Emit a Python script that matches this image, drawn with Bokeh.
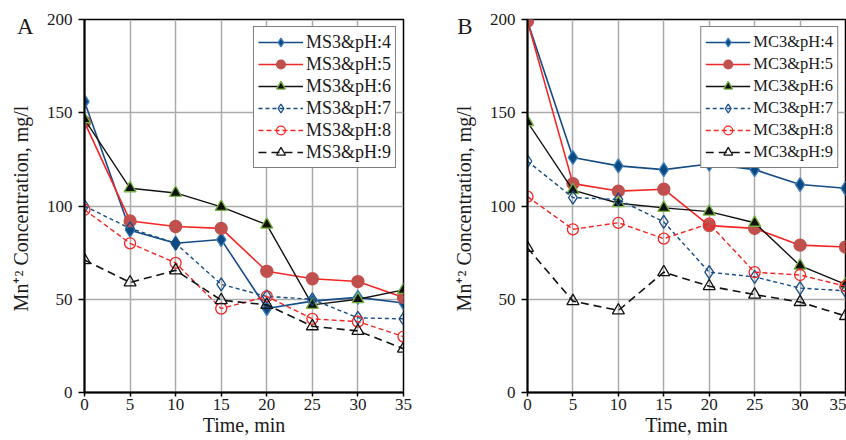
from bokeh.plotting import figure
from bokeh.layouts import row
from bokeh.models import FixedTicker, LinearAxis
from bokeh.embed import file_html
from bokeh.resources import INLINE

time_min = [0, 5, 10, 15, 20, 25, 30, 35]
x_ticks = [0, 5, 10, 15, 20, 25, 30, 35]
y_ticks = [0, 50, 100, 150, 200]

ms3_labels = ["MS3&pH:4", "MS3&pH:5", "MS3&pH:6", "MS3&pH:7", "MS3&pH:8", "MS3&pH:9"]
ms3_ph4 = [156, 87, 80, 82, 45, 49, 51, 48]
ms3_ph5 = [145, 92, 89, 88, 65, 61, 59.5, 51]
ms3_ph6 = [146.5, 109.5, 107, 99.5, 90, 47, 50, 55]
ms3_ph7 = [100, 88, 80, 58, 51.5, 50, 40, 39.5]
ms3_ph8 = [98, 80, 69.5, 45, 51.5, 39.5, 38, 30]
ms3_ph9 = [71, 59, 65.5, 49.5, 47, 35.5, 33, 23.5]

mc3_labels = ["MC3&pH:4", "MC3&pH:5", "MC3&pH:6", "MC3&pH:7", "MC3&pH:8", "MC3&pH:9"]
mc3_ph4 = [199, 126, 121.5, 119.5, 122.5, 119.5, 111.5, 109.5]
mc3_ph5 = [199, 112, 108, 109, 89.5, 88, 79, 78]
mc3_ph6 = [145, 108.5, 101.5, 99, 97, 91, 68, 58]
mc3_ph7 = [124, 104.5, 103.5, 91.5, 64.5, 62, 56, 54.5]
mc3_ph8 = [105, 87.5, 91, 82.5, 90.5, 64.5, 63, 57]
mc3_ph9 = [77.5, 49, 44, 64.5, 57, 52.5, 48.5, 41]

panel_letters = ["A", "B"]
letter_pos = 196

NAVY = "#154C85"
RED = "#F52525"
FONT = "Liberation Serif"
TXT = "#1a1a1a"

# line_color, dash, marker, size, fill, edge, line_width
styles = [
    (NAVY, "solid", "diamond", 14, "#0B4A80", "#3F7FC0", 1.6),
    (RED, "solid", "circle", 12, "#C0504D", "#C0504D", 1.6),
    ("#111111", "solid", "triangle", 12, "#111111", "#79B443", 1.4),
    (NAVY, "4 3", "diamond", 13, None, NAVY, 1.4),
    (RED, "5 3", "circle", 11, None, RED, 1.4),
    ("#111111", "8 5", "triangle", 12, None, "#111111", 1.6),
]


def make_panel(labels, series, letter, letter_shift, width, border_left, border_right, legend_size):
    p = figure(width=width, height=440, x_range=(0, 35), y_range=(0, 200),
               output_backend="svg", toolbar_location=None,
               min_border_left=border_left, min_border_right=border_right,
               min_border_top=19, min_border_bottom=48)
    p.background_fill_color = "white"
    p.border_fill_color = "white"
    p.outline_line_color = "black"
    p.outline_line_width = 1.5

    for lab, ys, st in zip(labels, series, styles):
        lc, dash, marker, size, fill, edge, lw = st
        p.line(time_min, ys, line_color=lc, line_dash=dash, line_width=lw, legend_label=lab)
        p.scatter(time_min, ys, marker=marker, size=size,
                  fill_color=fill, line_color=edge, line_width=1.3, legend_label=lab)

    p.xaxis.ticker = FixedTicker(ticks=x_ticks)
    p.yaxis.ticker = FixedTicker(ticks=y_ticks)
    for ax in (p.xaxis[0], p.yaxis[0]):
        ax.axis_line_color = "black"
        ax.axis_line_width = 2
        ax.major_tick_line_color = "black"
        ax.major_tick_line_width = 1.5
        ax.major_tick_in = 0
        ax.major_tick_out = 6
        ax.minor_tick_line_color = None
        ax.major_label_text_font = FONT
        ax.major_label_text_font_size = "17px"
        ax.major_label_text_color = TXT
        ax.axis_label_text_font = FONT
        ax.axis_label_text_font_style = "normal"
        ax.axis_label_text_font_size = "20px"
        ax.axis_label_text_color = TXT
    p.xaxis.major_tick_out = 4
    p.xaxis.major_label_standoff = 2
    p.xaxis.axis_label = "Time, min"
    p.xaxis.axis_label_standoff = 1
    p.yaxis.axis_label = "Mn\u207a\u00b2  Concentration, mg/l"
    p.yaxis.major_label_standoff = 6
    p.yaxis.axis_label_standoff = 12

    # panel letter, drawn as the single label of an extra bare axis
    letter_axis = LinearAxis(ticker=FixedTicker(ticks=[letter_pos]),
                             major_label_overrides={letter_pos: letter},
                             axis_line_color=None, major_tick_line_color=None,
                             minor_tick_line_color=None, major_tick_in=0, major_tick_out=0,
                             major_label_standoff=letter_shift,
                             major_label_text_font=FONT, major_label_text_font_size="23px",
                             major_label_text_color=TXT)
    p.add_layout(letter_axis, "left")

    p.grid.grid_line_color = "#ABABAB"
    p.grid.grid_line_width = 1.5

    lg = p.legend[0]
    lg.location = "top_right"
    lg.margin = 7
    lg.padding = 4
    lg.spacing = 0
    lg.label_height = 22
    lg.glyph_height = 22
    lg.glyph_width = 45
    lg.label_standoff = 3
    lg.label_text_font = FONT
    lg.label_text_font_size = legend_size
    lg.label_text_color = TXT
    lg.border_line_color = "black"
    lg.border_line_width = 1.2
    lg.background_fill_color = "white"
    lg.background_fill_alpha = 1
    return p


pa = make_panel(ms3_labels, [ms3_ph4, ms3_ph5, ms3_ph6, ms3_ph7, ms3_ph8, ms3_ph9],
                panel_letters[0], -27, 423, 84, 20, "18px")
pb = make_panel(mc3_labels, [mc3_ph4, mc3_ph5, mc3_ph6, mc3_ph7, mc3_ph8, mc3_ph9],
                panel_letters[1], -23, 423, 104, 1, "16.5px")

layout = row(pa, pb, spacing=0)
open("out.html", "w").write(file_html(layout, INLINE))
